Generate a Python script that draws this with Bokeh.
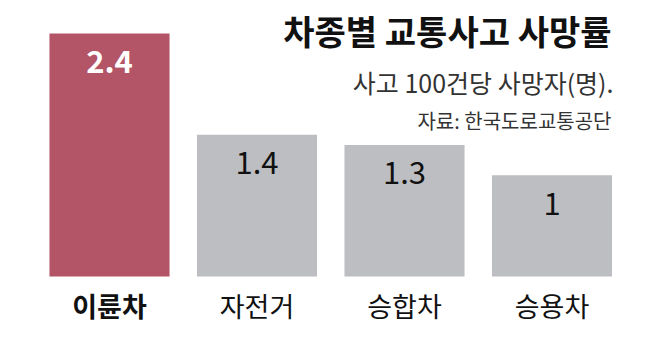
from bokeh.plotting import figure
from bokeh.models import ColumnDataSource, Range1d, Label
from bokeh.core.properties import value
from bokeh.embed import file_html
from bokeh.resources import INLINE

categories = ["이륜차", "자전거", "승합차", "승용차"]
values = [2.4, 1.4, 1.3, 1.0]
value_labels = ["2.4", "1.4", "1.3", "1"]
bar_colors = ["#b45467", "#bdbec1", "#bdbec1", "#bdbec1"]
value_colors = ["#ffffff", "#111111", "#111111", "#111111"]
value_styles = ["bold", "normal", "normal", "normal"]
cat_styles = ["bold", "normal", "normal", "normal"]
title = "차종별 교통사고 사망률"
subtitle = "사고 100건당 사망자(명)."
source_note = "자료: 한국도로교통공단"

W, H = 658, 341
FONT = "Noto Sans CJK KR"

src = ColumnDataSource(dict(
    x=list(range(len(categories))),
    top=values,
    cat=categories,
    vlab=value_labels,
    color=bar_colors,
    vcolor=value_colors,
    vstyle=value_styles,
    cstyle=cat_styles,
    zero=[0] * len(categories),
))

p = figure(width=W, height=H, output_backend="svg", toolbar_location=None,
           x_range=Range1d(-0.739, 3.722), y_range=Range1d(-0.642, 2.726),
           min_border=0, min_border_left=0, min_border_right=0,
           min_border_top=0, min_border_bottom=0)
p.axis.visible = False
p.grid.visible = False
p.outline_line_color = None
p.background_fill_color = "white"
p.border_fill_color = "white"

p.vbar(x="x", top="top", bottom=0, width=0.814, color="color", line_color=None, source=src)

p.text(x="x", y="top", text="vlab", text_color="vcolor", text_font=value(FONT),
       text_font_style="vstyle", text_font_size="31px", text_align="center",
       text_baseline="middle", y_offset=28, source=src)

p.text(x="x", y="zero", text="cat", text_color="#111111", text_font=value(FONT),
       text_font_style="cstyle", text_font_size="27px", text_align="center",
       text_baseline="middle", y_offset=29, source=src)

p.add_layout(Label(x=611, y=H - 30, x_units="screen", y_units="screen", text=title,
                   text_font=FONT, text_font_style="bold", text_font_size="34px",
                   text_align="right", text_baseline="middle", text_color="#111111"))
p.add_layout(Label(x=613, y=H - 81, x_units="screen", y_units="screen", text=subtitle,
                   text_font=FONT, text_font_size="25px",
                   text_align="right", text_baseline="middle", text_color="#333333"))
p.add_layout(Label(x=611, y=H - 120, x_units="screen", y_units="screen", text=source_note,
                   text_font=FONT, text_font_size="20px",
                   text_align="right", text_baseline="middle", text_color="#333333"))

open("out.html", "w").write(file_html(p, INLINE))
